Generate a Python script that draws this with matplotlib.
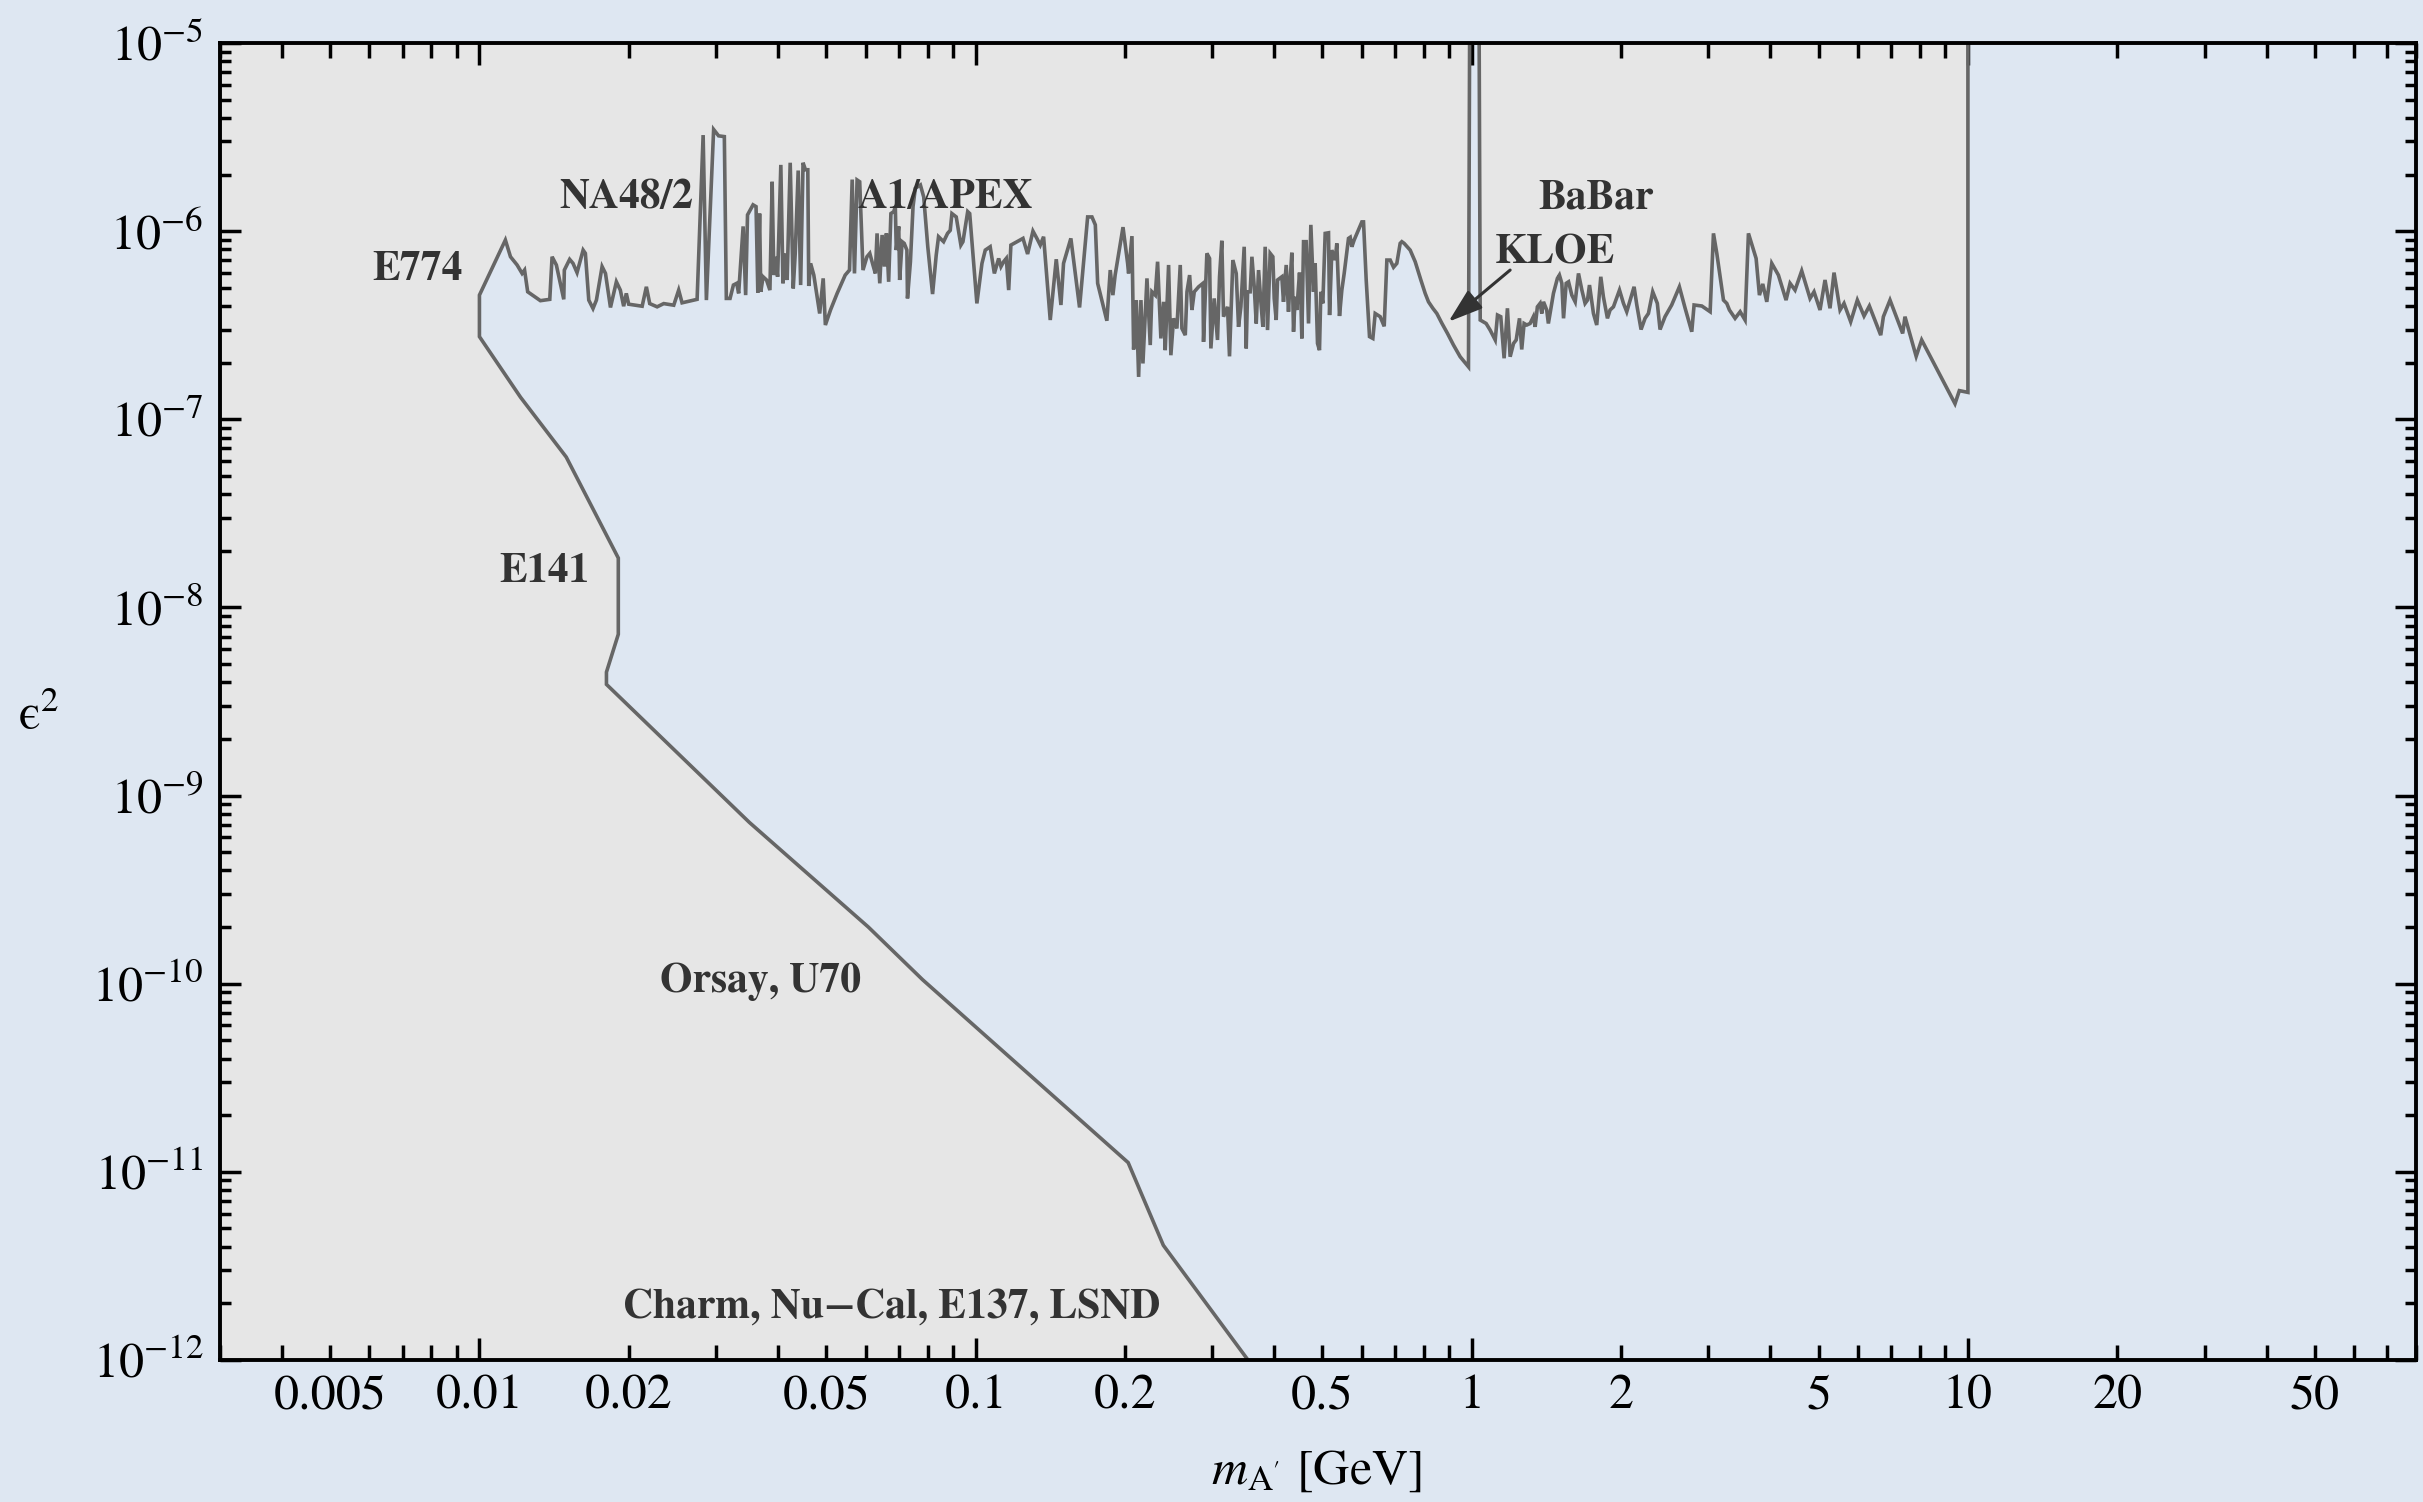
import matplotlib
matplotlib.use("Agg")
import matplotlib.pyplot as plt
from matplotlib.ticker import FixedLocator, FuncFormatter, LogLocator, NullFormatter

# ---------------------------------------------------------------------------
# Dark-photon exclusion limits: epsilon^2 versus A' mass (GeV)
# ---------------------------------------------------------------------------

# Upper boundary from collider / fixed-target resonance searches
mass_upper = [
    0.01, 0.01128, 0.01155, 0.01191, 0.01219, 0.01233, 0.01251, 0.01327, 0.01386, 0.01401,
    0.01429, 0.01479, 0.01483, 0.01520, 0.01544, 0.01573, 0.01618, 0.01635, 0.01661, 0.01694,
    0.01721, 0.01767, 0.01795, 0.01837, 0.01888, 0.01923, 0.01953, 0.01977, 0.01999, 0.02128,
    0.02170, 0.02204, 0.02281, 0.02352, 0.02464, 0.02521, 0.02561, 0.02746, 0.02824, 0.02867,
    0.02965, 0.03034, 0.03116, 0.03145,
    0.0320, 0.0325, 0.0330, 0.0333, 0.0340, 0.0344, 0.0347, 0.0356, 0.0361, 0.0364,
    0.0367, 0.0369, 0.0373, 0.0379, 0.0385, 0.0389, 0.0392, 0.0395, 0.0399, 0.0405,
    0.0409, 0.0412, 0.0417, 0.0423, 0.0429, 0.0433, 0.0439, 0.0444, 0.0449, 0.0454,
    0.0459, 0.0461, 0.0465, 0.0472, 0.0485, 0.0493, 0.0498, 0.0510, 0.0526, 0.0546,
    0.0557, 0.0564, 0.0570, 0.0577, 0.0584, 0.0593, 0.0604, 0.0612, 0.0621, 0.0628,
    0.0633, 0.0641, 0.0648, 0.0655, 0.0661, 0.0668, 0.0675, 0.0684, 0.0689, 0.0692,
    0.0700, 0.0703, 0.0711, 0.0718, 0.0727, 0.0729, 0.0739, 0.0748, 0.0756, 0.0774,
    0.0786, 0.0801, 0.0819, 0.0833, 0.0842, 0.0862, 0.0878, 0.0889, 0.0896, 0.0914,
    0.0934, 0.0943, 0.0964, 0.0973, 0.1006, 0.1030, 0.1046, 0.1070,
    0.1091, 0.1113, 0.1125, 0.1139, 0.1153, 0.1166, 0.1178, 0.1212, 0.1246, 0.1273,
    0.1305, 0.1329, 0.1350, 0.1371, 0.1414, 0.1454, 0.1486, 0.1504, 0.1556, 0.1620,
    0.1682, 0.1716, 0.1743, 0.1762, 0.1839, 0.1868, 0.1891, 0.1911, 0.1982, 0.2025,
    0.2034, 0.2066, 0.2082, 0.2108, 0.2131, 0.2154, 0.2174, 0.2215, 0.2249, 0.2267,
    0.2302, 0.2327, 0.2363, 0.2393, 0.2411, 0.2449, 0.2475, 0.2506, 0.2545, 0.2585,
    0.2605, 0.2646, 0.2667, 0.2700, 0.2729, 0.2759, 0.2815, 0.2872, 0.2880, 0.2925,
    0.2962, 0.2980, 0.3026, 0.3073, 0.3102, 0.3135, 0.3160, 0.3219, 0.3249, 0.3300,
    0.3352, 0.3388, 0.3425, 0.3478, 0.3511, 0.3533, 0.3576,
    0.3605, 0.3644, 0.3678, 0.3718, 0.3758, 0.3793, 0.3834, 0.3876, 0.3924, 0.3973,
    0.3998, 0.4035, 0.4060, 0.4142, 0.4174, 0.4227, 0.4272, 0.4305, 0.4339, 0.4373,
    0.4407, 0.4441, 0.4496, 0.4524, 0.4545, 0.4581, 0.4637, 0.4688, 0.4739, 0.4798,
    0.4835, 0.4888, 0.4933, 0.4964, 0.5010, 0.5065, 0.5144, 0.5169, 0.5224, 0.5306,
    0.5346, 0.5413, 0.5472, 0.5532, 0.5644, 0.5689, 0.5733, 0.5794, 0.6005, 0.6051,
    0.6127, 0.6222, 0.6319, 0.6388, 0.6538, 0.6661, 0.6744, 0.6849, 0.6956, 0.7063,
    0.7173, 0.7229, 0.7307, 0.7514, 0.7691, 0.7896, 0.8056, 0.8181, 0.8348, 0.8504,
    0.8704, 0.8935, 0.9188, 0.9476, 0.9849,
    0.99, 1.035,
    1.040, 1.069, 1.089, 1.115, 1.127, 1.144, 1.162, 1.180, 1.195, 1.214,
    1.229, 1.248, 1.261, 1.275, 1.291, 1.311, 1.331, 1.342, 1.356, 1.373,
    1.384, 1.395, 1.416, 1.427, 1.461, 1.488, 1.502, 1.519, 1.531, 1.550,
    1.567, 1.591, 1.616, 1.641, 1.667, 1.692, 1.711, 1.727, 1.759, 1.786,
    1.820, 1.842, 1.877, 1.900, 1.930, 1.985, 2.022, 2.053, 2.124, 2.151,
    2.194, 2.235, 2.270, 2.316, 2.366, 2.396, 2.452, 2.529, 2.621, 2.692,
    2.776, 2.806, 2.909, 3.023, 3.070, 3.118, 3.216, 3.266, 3.306, 3.394,
    3.475,
    3.555, 3.611, 3.742, 3.800, 3.859, 3.932, 4.024, 4.150, 4.300, 4.381,
    4.483, 4.624, 4.806, 4.896, 5.034, 5.152, 5.273, 5.372, 5.524, 5.627,
    5.804, 5.986, 6.175, 6.330, 6.672, 6.755, 6.966, 7.387, 7.467, 7.865,
    8.068, 9.418, 9.610, 10.0, 10.0,
]
eps2_upper = [
    4.57e-7, 8.97e-7, 7.31e-7, 6.61e-7, 5.96e-7, 6.21e-7, 4.76e-7, 4.27e-7, 4.34e-7, 7.31e-7,
    6.61e-7, 4.34e-7, 6.21e-7, 7.08e-7, 6.74e-7, 6.02e-7, 7.93e-7, 7.62e-7, 4.30e-7, 3.88e-7,
    4.30e-7, 6.48e-7, 5.96e-7, 3.93e-7, 5.38e-7, 4.86e-7, 3.99e-7, 4.67e-7, 4.09e-7, 3.99e-7,
    5.06e-7, 4.12e-7, 3.96e-7, 4.12e-7, 4.04e-7, 4.86e-7, 4.16e-7, 4.34e-7, 3.24e-6, 4.30e-7,
    3.47e-6, 3.21e-6, 3.18e-6, 4.39e-7,
    4.39e-7, 5.17e-7, 5.28e-7, 4.67e-7, 1.06e-6, 4.57e-7, 1.22e-6, 1.38e-6, 1.35e-6, 4.71e-7,
    1.24e-6, 4.76e-7, 5.72e-7, 5.50e-7, 4.86e-7, 1.83e-6, 5.84e-7, 7.31e-7, 5.72e-7, 2.25e-6,
    5.28e-7, 7.62e-7, 5.50e-7, 2.31e-6, 4.96e-7, 7.62e-7, 2.10e-6, 5.17e-7, 2.31e-6, 2.12e-6,
    2.12e-6, 5.11e-7, 6.74e-7, 5.84e-7, 3.65e-7, 5.61e-7, 3.17e-7, 3.81e-7, 4.67e-7, 5.84e-7,
    6.21e-7, 1.88e-6, 5.96e-7, 1.87e-6, 1.83e-6, 6.21e-7, 7.31e-7, 7.62e-7, 6.61e-7, 5.96e-7,
    9.73e-7, 5.28e-7, 9.54e-7, 6.48e-7, 9.73e-7, 5.38e-7, 1.24e-6, 1.27e-6, 1.35e-6, 7.93e-7,
    1.06e-6, 5.50e-7, 8.79e-7, 8.61e-7, 7.93e-7, 4.39e-7, 6.88e-7, 1.35e-6, 1.69e-6, 1.76e-6,
    1.52e-6, 8.26e-7, 4.63e-7, 7.46e-7, 9.34e-7, 8.79e-7, 9.73e-7, 1.01e-6, 1.24e-6, 1.19e-6,
    8.43e-7, 8.79e-7, 1.27e-6, 1.24e-6, 4.13e-7, 6.74e-7, 7.93e-7, 8.26e-7,
    5.96e-7, 7.16e-7, 6.48e-7, 6.88e-7, 7.16e-7, 4.86e-7, 8.43e-7, 8.79e-7, 9.15e-7, 7.56e-7,
    1.00e-6, 9.15e-7, 8.43e-7, 9.34e-7, 3.37e-7, 7.09e-7, 4.05e-7, 6.74e-7, 9.15e-7, 3.93e-7,
    1.19e-6, 1.19e-6, 1.08e-6, 5.28e-7, 3.34e-7, 6.21e-7, 4.57e-7, 5.84e-7, 1.05e-6, 6.74e-7,
    5.96e-7, 9.41e-7, 2.35e-7, 4.30e-7, 1.68e-7, 4.30e-7, 1.98e-7, 5.61e-7, 2.48e-7, 4.76e-7,
    4.57e-7, 6.88e-7, 2.69e-7, 4.21e-7, 2.33e-7, 6.61e-7, 2.19e-7, 3.44e-7, 3.04e-7, 6.61e-7,
    3.04e-7, 2.80e-7, 4.76e-7, 5.84e-7, 3.81e-7, 4.76e-7, 5.06e-7, 5.28e-7, 2.58e-7, 7.62e-7,
    7.16e-7, 2.38e-7, 4.39e-7, 2.64e-7, 5.72e-7, 8.89e-7, 3.51e-7, 3.96e-7, 2.16e-7, 7.02e-7,
    5.96e-7, 3.10e-7, 3.96e-7, 8.26e-7, 2.38e-7, 4.76e-7, 4.76e-7,
    7.31e-7, 5.06e-7, 3.23e-7, 6.21e-7, 4.21e-7, 3.10e-7, 8.26e-7, 2.98e-7, 7.62e-7, 7.31e-7,
    4.39e-7, 3.37e-7, 5.50e-7, 5.72e-7, 4.21e-7, 6.61e-7, 3.73e-7, 5.50e-7, 7.68e-7, 2.92e-7,
    4.48e-7, 3.81e-7, 6.02e-7, 4.30e-7, 2.69e-7, 8.79e-7, 8.79e-7, 3.23e-7, 1.08e-6, 4.76e-7,
    6.74e-7, 2.53e-7, 2.33e-7, 4.76e-7, 4.13e-7, 9.73e-7, 9.80e-7, 3.58e-7, 7.93e-7, 7.02e-7,
    8.61e-7, 3.54e-7, 4.86e-7, 5.96e-7, 9.15e-7, 9.28e-7, 8.26e-7, 8.97e-7, 1.12e-6, 1.12e-6,
    5.50e-7, 2.75e-7, 2.69e-7, 3.65e-7, 3.51e-7, 3.12e-7, 7.02e-7, 7.02e-7, 6.43e-7, 6.74e-7,
    8.61e-7, 8.79e-7, 8.61e-7, 7.93e-7, 6.88e-7, 5.50e-7, 4.67e-7, 4.21e-7, 3.89e-7, 3.65e-7,
    3.24e-7, 2.86e-7, 2.48e-7, 2.15e-7, 1.90e-7,
    1.0e-5, 1.0e-5,
    3.37e-7, 3.23e-7, 2.98e-7, 2.64e-7, 3.58e-7, 3.51e-7, 2.11e-7, 3.89e-7, 2.15e-7, 2.53e-7,
    2.64e-7, 3.44e-7, 2.35e-7, 3.23e-7, 3.17e-7, 3.23e-7, 3.51e-7, 3.10e-7, 3.96e-7, 4.13e-7,
    3.65e-7, 4.21e-7, 3.81e-7, 3.23e-7, 4.67e-7, 5.61e-7, 5.84e-7, 5.28e-7, 3.44e-7, 5.28e-7,
    5.38e-7, 4.57e-7, 4.21e-7, 5.96e-7, 4.86e-7, 4.13e-7, 4.30e-7, 5.17e-7, 3.65e-7, 3.17e-7,
    5.72e-7, 4.48e-7, 3.44e-7, 3.81e-7, 3.96e-7, 4.86e-7, 4.13e-7, 3.73e-7, 5.06e-7, 4.05e-7,
    3.00e-7, 3.44e-7, 3.65e-7, 4.76e-7, 4.13e-7, 3.00e-7, 3.51e-7, 4.05e-7, 5.06e-7, 3.89e-7,
    2.92e-7, 4.05e-7, 4.00e-7, 3.73e-7, 9.73e-7, 7.62e-7, 4.30e-7, 4.13e-7, 3.81e-7, 3.44e-7,
    3.73e-7,
    3.37e-7, 9.73e-7, 7.16e-7, 4.57e-7, 5.24e-7, 4.21e-7, 6.74e-7, 5.84e-7, 4.30e-7, 5.28e-7,
    4.86e-7, 6.15e-7, 4.39e-7, 4.76e-7, 3.81e-7, 5.50e-7, 3.89e-7, 6.02e-7, 3.81e-7, 4.13e-7,
    3.30e-7, 4.30e-7, 3.54e-7, 4.00e-7, 2.80e-7, 3.51e-7, 4.30e-7, 2.86e-7, 3.51e-7, 2.16e-7,
    2.64e-7, 1.21e-7, 1.42e-7, 1.39e-7, 1.0e-5,
]

# Lower boundary from beam-dump experiments (E774, E141, Orsay, U70, CHARM, ...)
mass_dump = [0.01, 0.0121, 0.01496, 0.01905, 0.01905, 0.01803, 0.01803, 0.035,
             0.0608, 0.0782, 0.203, 0.239, 0.354]
eps2_dump = [2.75e-7, 1.31e-7, 6.3e-8, 1.83e-8, 7.2e-9, 4.53e-9, 3.9e-9, 7.2e-10,
             2.0e-10, 1.05e-10, 1.12e-11, 4.07e-12, 1.0e-12]

# Experiment labels: (text, mass, eps^2)
labels = [
    ("E774", 0.0075, 6.2e-7),
    ("NA48/2", 0.0198, 1.5e-6),
    ("A1/APEX", 0.0871, 1.5e-6),
    ("BaBar", 1.78, 1.5e-6),
    ("KLOE", 1.47, 7.65e-7),
    ("E141", 0.0135, 1.54e-8),
    ("Orsay, U70", 0.0368, 1.03e-10),
    ("Charm, Nu\u2212Cal, E137, LSND", 0.0678, 1.9e-12),
]
kloe_arrow_tail = (1.195, 6.21e-7)
kloe_arrow_tip = (0.8975, 3.30e-7)

x_tick_labels = {0.005: "0.005", 0.01: "0.01", 0.02: "0.02", 0.05: "0.05", 0.1: "0.1",
                 0.2: "0.2", 0.5: "0.5", 1: "1", 2: "2", 5: "5", 10: "10", 20: "20", 50: "50"}

XMIN, XMAX = 0.003, 80.0
YMIN, YMAX = 1e-12, 1e-5

# ---------------------------------------------------------------------------
plt.rcParams["font.family"] = ["STIXGeneral", "DejaVu Serif"]
plt.rcParams["mathtext.fontset"] = "stix"

BG = "#dee7f2"
FILL = "#e6e6e6"
EDGE = "#666666"
TEXT = "#333333"

fig = plt.figure(figsize=(24.23, 15.02), dpi=100, facecolor=BG)
ax = fig.add_axes([220 / 2423, 1 - 1360 / 1502, 2196 / 2423, 1317 / 1502])
ax.set_facecolor("none")
ax.set_xscale("log")
ax.set_yscale("log")
ax.set_xlim(XMIN, XMAX)
ax.set_ylim(YMIN, YMAX)

# Excluded region: beam-dump boundary, then resonance-search boundary, closed along the frame
poly_x = mass_dump[::-1] + mass_upper + [XMIN * 0.5, XMIN * 0.5]
poly_y = eps2_dump[::-1] + eps2_upper + [YMAX, YMIN]
ax.fill(poly_x, poly_y, color=FILL, lw=0, zorder=1)
ax.plot(mass_dump[::-1] + mass_upper, eps2_dump[::-1] + eps2_upper,
        color=EDGE, lw=2.6, solid_joinstyle="miter", zorder=2)

for text, mx, ey in labels:
    ax.text(mx, ey, text, ha="center", va="center", fontsize=30,
            fontweight="bold", color=TEXT, zorder=4)

ax.annotate("", xy=kloe_arrow_tip, xytext=kloe_arrow_tail,
            arrowprops=dict(arrowstyle="-|>,head_length=0.6,head_width=0.2",
                            mutation_scale=35, color=TEXT, lw=2.2,
                            shrinkA=0, shrinkB=0), zorder=4)

# Axes, ticks and labels
for sp in ax.spines.values():
    sp.set_linewidth(2.8)
    sp.set_color("black")
    sp.set_zorder(5)

ax.xaxis.set_major_locator(FixedLocator([1e-2, 1e-1, 1, 10]))
ax.xaxis.set_minor_locator(LogLocator(base=10, subs=range(2, 10), numticks=20))
ax.xaxis.set_major_formatter(FuncFormatter(lambda v, p: x_tick_labels.get(round(v, 6), "")))
ax.xaxis.set_minor_formatter(FuncFormatter(
    lambda v, p: x_tick_labels.get(float(f"{v:.3g}"), "")))

ax.yaxis.set_major_locator(LogLocator(base=10, numticks=20))
ax.yaxis.set_minor_locator(LogLocator(base=10, subs=range(2, 10), numticks=20))
ax.yaxis.set_minor_formatter(NullFormatter())

ax.tick_params(axis="both", which="both", direction="in", top=True, right=True,
               color="black", labelsize=36, labelcolor="black")
ax.tick_params(axis="x", which="major", length=16, width=2.5, pad=10)
ax.tick_params(axis="x", which="minor", length=11, width=2.5, pad=10)
ax.tick_params(axis="y", which="major", length=15, width=2.5, pad=12)
ax.tick_params(axis="y", which="minor", length=8, width=2.5, pad=12)

fig.text(39 / 2423, 1 - 718 / 1502, "\u03f5$^2$", fontsize=36,
         ha="center", va="center")
fig.text(1316 / 2423, 1 - 1472 / 1502, r"$m_{\mathrm{A'}}$ [GeV]", fontsize=36,
         ha="center", va="center")

fig.savefig("out.png", dpi=100, facecolor=BG)
